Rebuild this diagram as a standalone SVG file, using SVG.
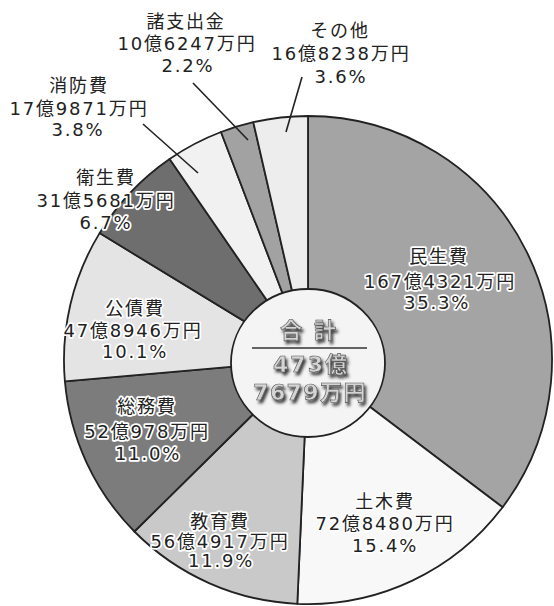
<svg xmlns="http://www.w3.org/2000/svg" width="554" height="606" viewBox="0 0 554 606">
<defs>
<style>
.sl{stroke:#222;stroke-width:1.8;stroke-linejoin:round}
.lb{font-family:"DejaVu Sans","Noto Sans CJK JP",sans-serif;font-size:18px;letter-spacing:1.8px;fill:#222;text-anchor:middle;stroke:#fff;stroke-width:3.5px;paint-order:stroke;stroke-linejoin:round}
.ld{stroke:#222;stroke-width:1.6;fill:none}
.tot{font-family:"DejaVu Sans","Noto Sans CJK JP",sans-serif;font-size:22px;font-weight:bold;fill:#d4d4d4;stroke:#555;stroke-width:0.6px;text-anchor:middle;filter:url(#sh)}
</style>
<filter id="sh" x="-20%" y="-30%" width="140%" height="170%">
<feDropShadow dx="2" dy="3" stdDeviation="1.6" flood-color="#222" flood-opacity="0.9"/>
</filter>
</defs>
<rect width="554" height="606" fill="#fff"/>
<g id="slices">
<g id="minsei"><path class="sl" fill="#a4a4a4" d="M308 360 L308 116 A244 244 0 0 1 502.6 507.2 Z"/></g>
<g id="doboku"><path class="sl" fill="#f8f8f8" d="M308 360 L502.6 507.2 A244 244 0 0 1 297.3 603.8 Z"/></g>
<g id="kyoiku"><path class="sl" fill="#c9c9c9" d="M308 360 L297.3 603.8 A244 244 0 0 1 134.4 531.5 Z"/></g>
<g id="somu"><path class="sl" fill="#7c7c7c" d="M308 360 L134.4 531.5 A244 244 0 0 1 64.9 381.4 Z"/></g>
<g id="kosai"><path class="sl" fill="#e4e4e4" d="M308 360 L64.9 381.4 A244 244 0 0 1 99.6 233.1 Z"/></g>
<g id="eisei"><path class="sl" fill="#6e6e6e" d="M308 360 L99.6 233.1 A244 244 0 0 1 169.6 159 Z"/></g>
<g id="shobo"><path class="sl" fill="#f1f1f1" d="M308 360 L169.6 159 A244 244 0 0 1 221 132 Z"/></g>
<g id="shoshishutsu"><path class="sl" fill="#a2a2a2" d="M308 360 L221 132 A244 244 0 0 1 253.3 122.2 Z"/></g>
<g id="sonota"><path class="sl" fill="#ededed" d="M308 360 L253.3 122.2 A244 244 0 0 1 308 116 Z"/></g>
</g>
<g id="connectors">
<line class="ld" x1="143" y1="124" x2="198" y2="173"/>
<line class="ld" x1="193" y1="83" x2="248" y2="140"/>
<line class="ld" x1="302" y1="77" x2="286" y2="132"/>
</g>
<g id="total">
<ellipse cx="308" cy="363" rx="77" ry="74" fill="#f4f4f4" stroke="#222" stroke-width="1.8"/>
<text class="tot" x="314" y="338" letter-spacing="12">合計</text>
<line x1="252" y1="348" x2="367" y2="348" stroke="#333" stroke-width="1.6"/>
<text class="tot" x="311" y="372" letter-spacing="2">473億</text>
<text class="tot" x="310" y="400" letter-spacing="1.4">7679万円</text>
</g>
<g id="lab-minsei"><text class="lb" x="439" y="263">民生費</text><text class="lb" x="440" y="288">167億4321万円</text><text class="lb" x="437" y="309">35.3%</text></g>
<g id="lab-doboku"><text class="lb" x="385" y="508">土木費</text><text class="lb" x="385" y="530">72億8480万円</text><text class="lb" x="385" y="552">15.4%</text></g>
<g id="lab-kyoiku"><text class="lb" x="220" y="528">教育費</text><text class="lb" x="220" y="548">56億4917万円</text><text class="lb" x="221" y="567">11.9%</text></g>
<g id="lab-somu"><text class="lb" x="147" y="413">総務費</text><text class="lb" x="147" y="438">52億978万円</text><text class="lb" x="148" y="460">11.0%</text></g>
<g id="lab-kosai"><text class="lb" x="135" y="315">公債費</text><text class="lb" x="133" y="337">47億8946万円</text><text class="lb" x="135" y="358">10.1%</text></g>
<g id="lab-eisei"><text class="lb" x="106" y="184">衛生費</text><text class="lb" x="106" y="207">31億5681万円</text><text class="lb" x="106" y="229">6.7%</text></g>
<g id="lab-shobo"><text class="lb" x="79" y="92">消防費</text><text class="lb" x="79" y="115">17億9871万円</text><text class="lb" x="78" y="136">3.8%</text></g>
<g id="lab-shoshishutsu"><text class="lb" x="186" y="28">諸支出金</text><text class="lb" x="187" y="50">10億6247万円</text><text class="lb" x="188" y="72">2.2%</text></g>
<g id="lab-sonota"><text class="lb" x="340" y="37">その他</text><text class="lb" x="341" y="60">16億8238万円</text><text class="lb" x="341" y="83">3.6%</text></g>
</svg>
